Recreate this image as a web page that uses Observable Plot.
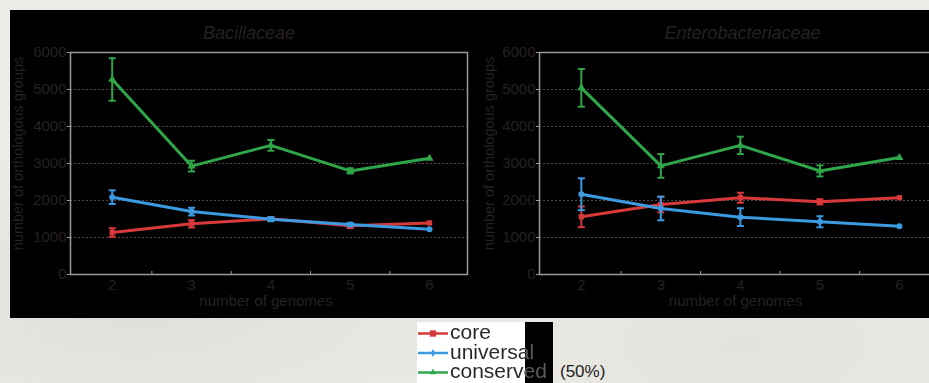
<!DOCTYPE html>
<html><head><meta charset="utf-8">
<script src="https://cdn.jsdelivr.net/npm/d3@7"></script>
<script src="https://cdn.jsdelivr.net/npm/@observablehq/plot@0.6"></script>
<style>
html,body{margin:0;padding:0;}
body{width:929px;height:383px;overflow:hidden;position:relative;
  background:#eeece7;
  background-image:radial-gradient(ellipse at 15% 80%, rgba(200,198,192,0.35), rgba(238,236,231,0) 40%),
                   radial-gradient(ellipse at 80% 90%, rgba(205,203,198,0.3), rgba(238,236,231,0) 35%);
  font-family:"Liberation Sans",Arial,sans-serif;}
#panel{position:absolute;left:10px;top:10px;width:919px;height:308px;background:#000;overflow:hidden;}
#c1{position:absolute;left:0;top:0;width:465px;height:308px;}
#c2{position:absolute;left:465px;top:0;width:470px;height:308px;}
#panel svg{max-width:none !important;}
#legend{position:absolute;left:417px;top:322px;width:136px;height:61px;}
#legend .white{position:absolute;left:0;top:0;width:108px;height:61px;background:#fff;}
#legend .black{position:absolute;left:108px;top:0;width:28px;height:61px;background:#000;}
#legend svg{position:absolute;left:0;top:0;}
#legend .txt{position:absolute;left:33px;top:0;font-size:21px;line-height:19.5px;white-space:pre;
  background:linear-gradient(to right,#262626 0,#262626 75px,#5a5a5a 75px);
  -webkit-background-clip:text;background-clip:text;color:transparent;}
#pct{position:absolute;left:560px;top:362px;font-size:17px;line-height:20px;color:#222;}
</style>
</head><body>
<div id="panel"><div id="c1"></div><div id="c2"></div></div>
<div id="legend"><div class="white"></div><div class="black"></div></div>
<div id="pct">(50%)</div>
<script>
// ---- data ----
const genomes = [2, 3, 4, 5, 6];
const seriesNames = ["core", "universal", "conserved"];
const seriesColors = ["#d83a3b", "#3b9ae0", "#2fa64a"];
const seriesSymbols = ["square", "circle", "triangle"];
const yTicks = [0, 1000, 2000, 3000, 4000, 5000, 6000];
const minorTicks = [2.5, 3.5, 4.5, 5.5];

// Bacillaceae
const bacCore = [1135, 1370, 1505, 1315, 1395];
const bacCoreErr = [115, 100, 50, 60, 0];
const bacUniversal = [2090, 1700, 1495, 1350, 1225];
const bacUniversalErr = [185, 105, 55, 45, 0];
const bacConserved = [5270, 2930, 3490, 2800, 3140];
const bacConservedErr = [575, 145, 145, 70, 0];

// Enterobacteriaceae
const entCore = [1560, 1890, 2075, 1965, 2075];
const entCoreErr = [280, 210, 135, 70, 0];
const entUniversal = [2170, 1785, 1550, 1425, 1305];
const entUniversalErr = [430, 320, 240, 150, 0];
const entConserved = [5045, 2935, 3490, 2800, 3160];
const entConservedErr = [510, 320, 235, 150, 0];

const textColor = "#262121";
const font = "'Liberation Sans', Arial, sans-serif";

const capSymbol = {
  draw(ctx, size) {
    const w = Math.sqrt(size / Math.PI);
    ctx.moveTo(-w, 0); ctx.lineTo(w, 0);
  }
};

function tidy(valuesList, errList) {
  const rows = [];
  seriesNames.forEach((s, si) => {
    genomes.forEach((g, i) => {
      rows.push({series: s, si, genomes: g, value: valuesList[si][i], err: errList[si][i]});
    });
  });
  return rows;
}

function makeChart(title, rows, opts) {
  const errRows = rows.filter(d => d.err > 0);
  const marks = [
    Plot.gridY(yTicks, {stroke: "#4a4a4a", strokeOpacity: 1, strokeDasharray: "2,2"}),
    Plot.frame({stroke: "#9a9a9a", strokeWidth: 1.5}),
    Plot.axisY(yTicks, {tickSize: 3, tickPadding: 1, stroke: "#9a9a9a", fill: textColor, fontSize: 15,
      tickFormat: d3.format("d"), label: null}),
    Plot.axisX(genomes, {tickSize: 0, tickPadding: 5, fill: textColor, fontSize: 15, label: null}),
    Plot.axisX(minorTicks, {tickSize: -3, text: null, stroke: "#9a9a9a", label: null}),
    Plot.text([title], {frameAnchor: "top", dy: -19, dx: opts.titleDx, text: d => d, fill: textColor,
      fontSize: 18, fontStyle: "italic", lineAnchor: "middle"}),
    Plot.text(["number of orthologous groups"], {frameAnchor: "left", rotate: -90, dx: opts.yLabelDx, dy: -10,
      text: d => d, fill: textColor, fontSize: 14.5, lineAnchor: "middle", textAnchor: "middle"}),
    Plot.text(["number of genomes"], {frameAnchor: "bottom", dy: 27, dx: -3, text: d => d, fill: textColor,
      fontSize: 15, lineAnchor: "middle"})
  ];
  seriesNames.forEach((s, si) => {
    const data = rows.filter(d => d.series === s);
    const errs = errRows.filter(d => d.series === s);
    const c = seriesColors[si];
    marks.push(
      Plot.ruleX(errs, {x: "genomes", y1: d => d.value - d.err, y2: d => d.value + d.err, stroke: c, strokeWidth: 2}),
      Plot.dot(errs, {x: "genomes", y: d => d.value + d.err, symbol: capSymbol, r: 3.5, stroke: c, strokeWidth: 2}),
      Plot.dot(errs, {x: "genomes", y: d => d.value - d.err, symbol: capSymbol, r: 3.5, stroke: c, strokeWidth: 2}),
      Plot.line(data, {x: "genomes", y: "value", stroke: c, strokeWidth: 3, curve: "linear"}),
      Plot.dot(data, {x: "genomes", y: "value", symbol: seriesSymbols[si], r: 3, fill: c, stroke: "none"})
    );
  });
  return Plot.plot({
    width: opts.width, height: 308,
    marginLeft: opts.marginLeft, marginRight: 8, marginTop: 42, marginBottom: 44,
    x: {domain: [1.474, 6.479]},
    y: {domain: [0, 6000]},
    style: {background: "transparent", color: textColor, fontFamily: font, overflow: "visible", maxWidth: "none"},
    marks
  });
}

const bacRows = tidy([bacCore, bacUniversal, bacConserved], [bacCoreErr, bacUniversalErr, bacConservedErr]);
const entRows = tidy([entCore, entUniversal, entConserved], [entCoreErr, entUniversalErr, entConservedErr]);

document.getElementById("c1").append(makeChart("Bacillaceae", bacRows, {width: 465, marginLeft: 60, titleDx: -20, yLabelDx: -52}));
document.getElementById("c2").append(makeChart("Enterobacteriaceae", entRows, {width: 470, marginLeft: 64, titleDx: 4, yLabelDx: -50}));

// ---- legend ----
const leg = d3.select("#legend");
const svg = leg.append("svg").attr("width", 136).attr("height", 61);
const rowY = [11.5, 31, 50.5];
seriesNames.forEach((s, i) => {
  const g = svg.append("g").attr("transform", `translate(0,${rowY[i]})`);
  g.append("line").attr("x1", 1).attr("x2", 31).attr("stroke", seriesColors[i]).attr("stroke-width", 2.5);
  g.append("path").attr("transform", "translate(16,0)")
    .attr("d", d3.symbol(i === 0 ? d3.symbolSquare : i === 1 ? d3.symbolDiamond : d3.symbolTriangle, i === 0 ? 40 : 18)())
    .attr("fill", seriesColors[i]);
});
leg.append("div").attr("class", "txt").text(seriesNames.join("\n"));
</script>
</body></html>
